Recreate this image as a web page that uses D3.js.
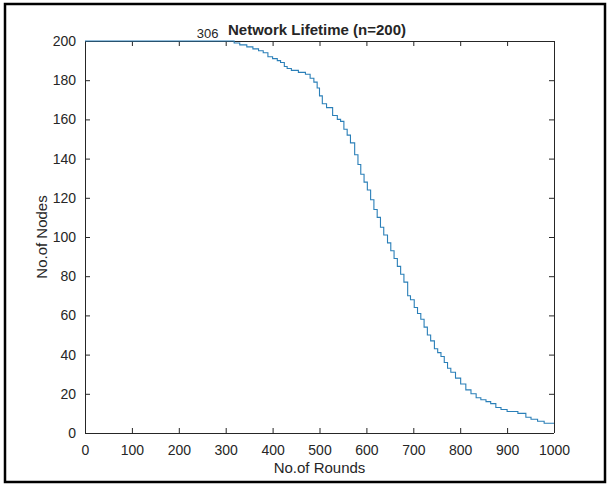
<!DOCTYPE html>
<html>
<head>
<meta charset="utf-8">
<script src="https://cdn.jsdelivr.net/npm/d3@7"></script>
<style>
  html, body { margin: 0; padding: 0; background: #fff; }
  svg { display: block; }
  text { font-family: "Liberation Sans", Arial, Helvetica, sans-serif; fill: #262626; }
</style>
</head>
<body>
<svg id="chart" width="607" height="486"></svg>
<script>
// Alive nodes per round (step function breakpoints: round, nodes still alive)
const rounds = [0, 306, 318, 330, 345, 358, 370, 380, 390, 400, 410, 417, 425, 431, 440, 455, 470, 480, 488,
  495, 500, 506, 515, 528, 538, 545, 552, 559, 566, 575, 582, 588, 595, 602, 609, 616, 623, 630, 637,
  645, 652, 659, 666, 673, 680, 688, 694, 702, 709, 716, 723, 730, 737, 745, 752, 759, 766, 773, 780,
  790, 801, 812, 823, 834, 844, 855, 865, 876, 887, 900, 923, 940, 951, 965, 979, 1000];
const aliveNodes = [200, 200, 199, 198, 197, 196, 195, 194, 192, 191, 190, 189, 187, 186, 185, 184, 183, 181, 179,
  176, 172, 168, 166, 162, 160, 159, 155, 152, 148, 142, 137, 132, 128, 124, 119, 114, 110, 105, 101,
  97, 93, 89, 85, 81, 77, 70, 68, 64, 61, 58, 54, 50, 47, 43, 41, 39, 36, 33, 31,
  28, 25, 22, 20, 18, 17, 16, 15, 13, 12, 11, 10, 8, 7, 6, 5, 5];
const xTicks = [0, 100, 200, 300, 400, 500, 600, 700, 800, 900, 1000];
const yTicks = [0, 20, 40, 60, 80, 100, 120, 140, 160, 180, 200];
const firstDeadRound = 306;
const titleText = "Network Lifetime (n=200)";
const xLabel = "No.of Rounds";
const yLabel = "No.of Nodes";

const svg = d3.select("#chart");
const plot = { left: 85, right: 554, top: 41, bottom: 433 };

// Outer frame
svg.append("rect")
  .attr("x", 5).attr("y", 4).attr("width", 600).attr("height", 478)
  .attr("fill", "#fff").attr("stroke", "#000").attr("stroke-width", 2.5);

const x = d3.scaleLinear().domain([0, 1000]).range([plot.left, plot.right]);
const y = d3.scaleLinear().domain([0, 200]).range([plot.bottom, plot.top]);

const axisColor = "#262626";
const tickLen = 5;

// Bottom axis with labels
const gx = svg.append("g").attr("transform", `translate(0,${plot.bottom})`)
  .call(d3.axisBottom(x).tickValues(xTicks).tickSize(-tickLen).tickPadding(12).tickFormat(d3.format("d")));
// Top axis, ticks only
const gxt = svg.append("g").attr("transform", `translate(0,${plot.top})`)
  .call(d3.axisTop(x).tickValues(xTicks).tickSize(-tickLen).tickFormat(""));
// Left axis with labels
const gy = svg.append("g").attr("transform", `translate(${plot.left},0)`)
  .call(d3.axisLeft(y).tickValues(yTicks).tickSize(-tickLen).tickPadding(9).tickFormat(d3.format("d")));
// Right axis, ticks only
const gyr = svg.append("g").attr("transform", `translate(${plot.right},0)`)
  .call(d3.axisRight(y).tickValues(yTicks).tickSize(-tickLen).tickFormat(""));

[gx, gxt, gy, gyr].forEach(g => {
  g.select(".domain").attr("stroke", axisColor).attr("stroke-width", 1);
  g.selectAll(".tick line").attr("stroke", axisColor).attr("stroke-width", 1);
  g.selectAll(".tick text").attr("font-size", 14).attr("fill", "#333")
    .style("font-family", '"Liberation Sans", Arial, Helvetica, sans-serif');
});
// Plain box edges (no outer tick ends)
gx.select(".domain").attr("d", `M${plot.left},0.5H${plot.right}`);
gxt.select(".domain").attr("d", `M${plot.left},0.5H${plot.right}`);
gy.select(".domain").attr("d", `M0.5,${plot.top}V${plot.bottom}`);
gyr.select(".domain").attr("d", `M0.5,${plot.top}V${plot.bottom}`);

// Alive-node curve
const series = rounds.map((r, i) => ({ r, n: aliveNodes[i] }));
const line = d3.line().x(d => x(d.r)).y(d => y(d.n)).curve(d3.curveStepAfter);
svg.append("path")
  .datum(series)
  .attr("d", line)
  .attr("fill", "none")
  .attr("stroke", "#2a7fb8")
  .attr("stroke-width", 1.1);

// Title and first-death annotation
svg.append("text")
  .attr("x", 317).attr("y", 35)
  .attr("text-anchor", "middle").attr("font-size", 15).attr("font-weight", "bold")
  .attr("fill", "#000")
  .text(titleText);
svg.append("text")
  .attr("x", x(firstDeadRound) - 10).attr("y", 38)
  .attr("text-anchor", "end").attr("font-size", 13)
  .text(String(firstDeadRound));

// Axis labels
svg.append("text")
  .attr("x", (plot.left + plot.right) / 2).attr("y", 473)
  .attr("text-anchor", "middle").attr("font-size", 15)
  .text(xLabel);
svg.append("text")
  .attr("transform", `translate(47,${(plot.top + plot.bottom) / 2}) rotate(-90)`)
  .attr("text-anchor", "middle").attr("font-size", 15)
  .text(yLabel);
</script>
</body>
</html>
